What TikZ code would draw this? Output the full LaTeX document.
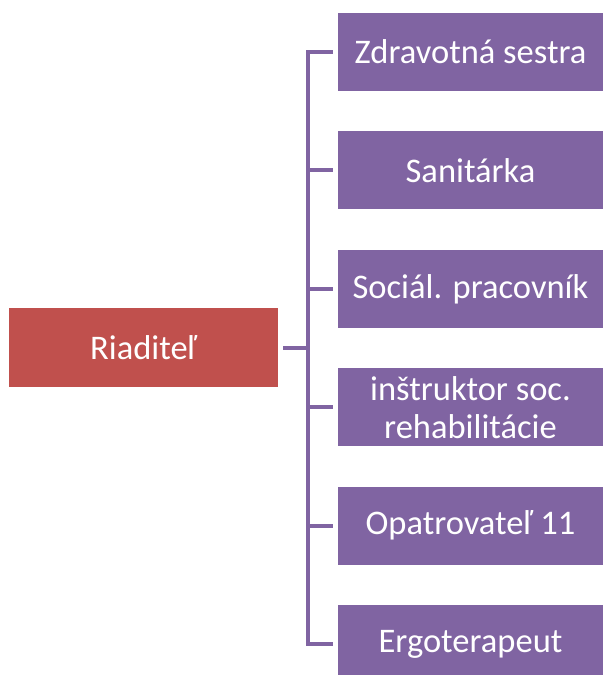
\documentclass[tikz,border=0pt]{standalone}
\usepackage{fontspec}
\setmainfont{Carlito}
\usepackage{xcolor}
\definecolor{tehla}{HTML}{C0504D}
\definecolor{fialova}{HTML}{8064A2}
\usepackage{tikz}
\usetikzlibrary{positioning}
\tikzset{
  boss/.style={rectangle, draw=none, fill=tehla, text=white, minimum width=269pt, minimum height=79pt, inner sep=0pt},
  staff/.style={rectangle, draw=none, fill=fialova, text=white, minimum width=265pt, minimum height=78pt, inner sep=0pt, align=center},
  line/.style={draw=fialova, line width=4pt, shorten <=5pt, shorten >=5pt},
}

\begin{document}
\begin{tikzpicture}[x=1pt,y=-1pt,font=\fontsize{34.5}{38}\selectfont]
    \clip (0,0) rectangle (603,675);

    \node[boss] (riad) at (143.5,347.5) {Riaditeľ};

    \node[staff] (sestra) at (470.5,52) {Zdravotná sestra};
    \node[staff,below=40pt of sestra] (sanit) {Sanitárka};
    \node[staff,below=40pt of sanit] (soc) {Sociál. pracovník};
    \node[staff,below=40pt of soc] (instr) {inštruktor soc.\\rehabilitácie};
    \node[staff,below=40pt of instr] (opatr) {Opatrovateľ 11};
    \node[staff,below=40pt of opatr] (ergo) {Ergoterapeut};

    \begin{scope} [every path/.style=line]
      \path (riad.east) -- ++(30,0) |- (sestra.west);
      \path (riad.east) -- ++(30,0) |- (sanit.west);
      \path (riad.east) -- ++(30,0) |- (soc.west);
      \path (riad.east) -- ++(30,0) |- (instr.west);
      \path (riad.east) -- ++(30,0) |- (opatr.west);
      \path (riad.east) -- ++(30,0) |- (ergo.west);
    \end{scope}

\end{tikzpicture}
\end{document}
